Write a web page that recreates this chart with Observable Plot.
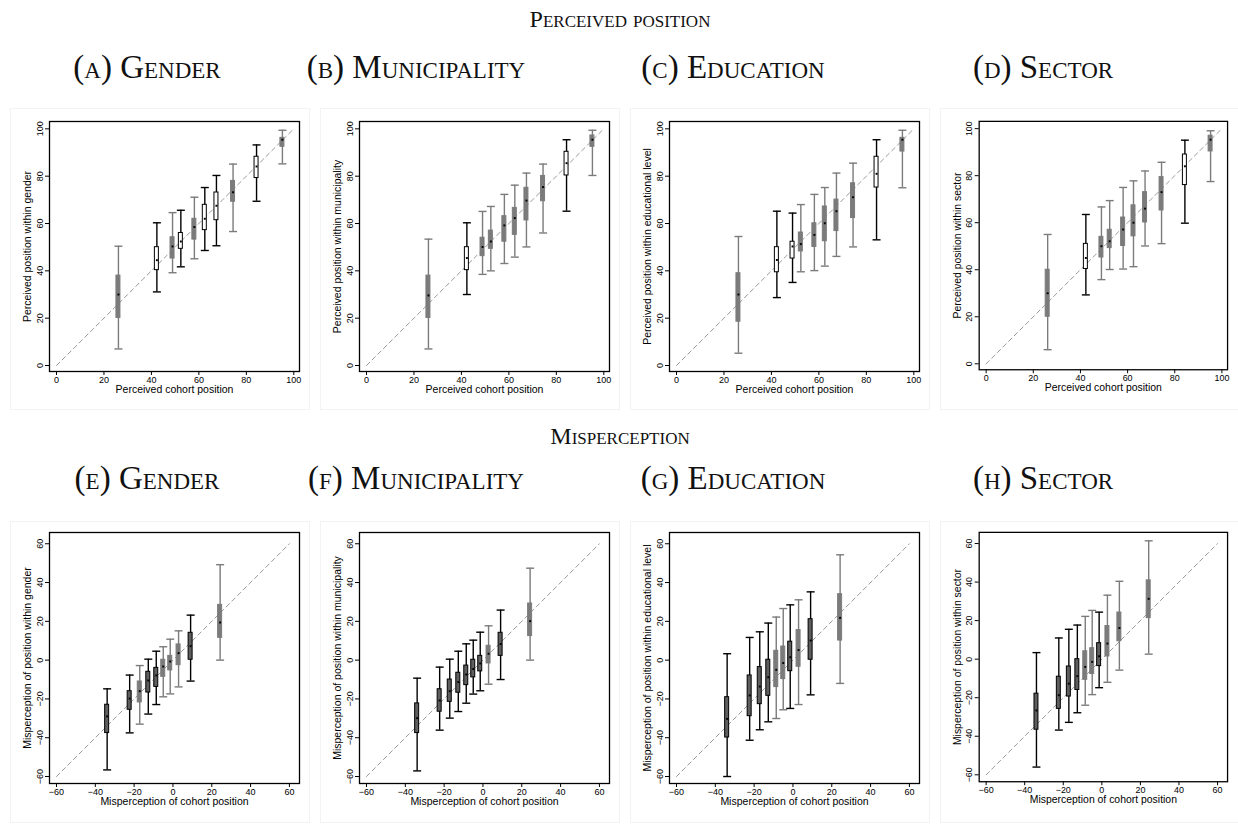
<!DOCTYPE html>
<html>
<head>
<meta charset="utf-8">
<script src="https://cdn.jsdelivr.net/npm/d3@7"></script>
<script src="https://cdn.jsdelivr.net/npm/@observablehq/plot@0.6"></script>
<style>
  body { margin: 0; background: #fff; }
  #fig { position: relative; width: 1238px; height: 825px; overflow: hidden; background: #fff; }
  .hd { position: absolute; transform: translateX(-50%); white-space: nowrap; font-family: "Liberation Serif", "DejaVu Serif", serif; font-variant: small-caps; color: #111; line-height: 1; }
  .region { position: absolute; border: 1px solid #f3f3f3; box-sizing: border-box; }
  .panel { position: absolute; }
</style>
</head>
<body>
<div id="fig"></div>
<script>
// Bin centres on the horizontal axis
const cohortPosition = [26.1, 42.3, 48.9, 52.4, 58.1, 62.5, 67.4, 74.4, 84.3, 95.2];
const cohortMisperception = [-33.9, -22.3, -17.1, -12.7, -8.6, -5.0, -1.4, 2.9, 9.1, 24.3];

// Box summaries per bin: [lower whisker, q1, median, q3, upper whisker]
const posGender = [
  [7, 20.1, 30, 38, 50.4], [31.1, 40.3, 44.5, 50, 60.3], [39.2, 45.2, 50.3, 54.2, 64.6],
  [41.7, 49.3, 52.4, 56, 65.6], [45.1, 53.2, 58.5, 62, 71.1], [48.6, 57.2, 62, 67.9, 75.2],
  [50.6, 61.4, 67.5, 73.1, 80.3], [56.6, 69.2, 73.2, 78, 85.1], [69.4, 79.2, 84.1, 88.2, 93.2],
  [85.2, 92.4, 95.4, 96.2, 99.4]
];
const posMunicipality = [
  [7, 20.1, 29.6, 38, 53.4], [30, 40.3, 45.4, 50, 60.3], [38.5, 46.2, 50.1, 54, 65.1],
  [40, 49.3, 52.4, 57, 67.2], [43.1, 52.3, 59.2, 63.1, 72.3], [45.8, 55.2, 62.3, 66.6, 76.2],
  [50.1, 61.3, 69.7, 75.1, 81.3], [56, 69.4, 75.4, 80.1, 85.1], [65.2, 80.3, 85.5, 90.3, 95.4],
  [80.3, 92.4, 95.4, 97.2, 99.4]
];
const posEducation = [
  [5.2, 18.5, 30, 39, 54.5], [28.7, 39.4, 44.6, 50, 65.2], [35.1, 45.2, 50.3, 52.3, 64.4],
  [39.6, 48.2, 51.3, 56.2, 68], [40.1, 50.1, 55.2, 60.1, 72.3], [42, 52.5, 60.1, 67.2, 75.2],
  [46.1, 56.8, 65.2, 70.1, 81.3], [50.1, 62.3, 71.1, 77, 85.5], [53.1, 75.2, 81, 88.2, 95.4],
  [75.1, 90.4, 95.4, 96.2, 99.4]
];
const posSector = [
  [6, 20, 30, 40, 55], [29.3, 40.3, 45, 51, 63.5], [35.8, 45.2, 50, 54, 66.7],
  [40.1, 49.2, 52.1, 57, 69.4], [40.3, 50.1, 57.1, 62.2, 75], [41.3, 54.2, 60, 67.4, 77.8],
  [50.1, 60.1, 66, 73, 82], [51.1, 65.2, 73, 79.4, 85.7], [59.8, 76, 84, 89, 95.1],
  [77.5, 90.3, 95.3, 97, 99.1]
];
const misGender = [
  [-56.6, -37.6, -29, -23, -14.8], [-37.5, -25.6, -19.8, -16, -7.7], [-33, -21.8, -16, -11, -2.8],
  [-27.8, -16.7, -10.5, -6, 0.5], [-22.9, -13.8, -7.9, -4, 4.6], [-18.9, -8.6, -3.3, 0.2, 6.9],
  [-17.4, -5.3, -0.7, 2.2, 10.8], [-13.8, -2.6, 3.6, 8.1, 15.1], [-10.8, 0.2, 7.2, 14.1, 23.2],
  [0, 11.5, 19.4, 28.5, 49.2]
];
const misMunicipality = [
  [-57.1, -37.6, -29.9, -22.3, -9.3], [-36.1, -26.6, -20.8, -15, -3.6], [-29.9, -21.5, -16, -10, 0.5],
  [-26.5, -16.8, -11.3, -6.5, 4.6], [-22.2, -12.9, -7.4, -2.8, 8.4], [-17.5, -8.9, -4.6, 0.2, 10.3],
  [-15.8, -5.8, -1.7, 2.2, 14.4], [-12.4, -1.7, 3.3, 7.4, 17.7], [-10, 2.2, 8.3, 14.1, 25.8],
  [0, 12.4, 20.1, 29.2, 47.4]
];
const misEducation = [
  [-60, -39.9, -30.3, -19.1, 3.3], [-41.3, -28.9, -18.2, -7.9, 11.7], [-35.9, -22.7, -13.6, -3.6, 14.6],
  [-31.8, -18.4, -8.8, 0.2, 19.1], [-30.1, -13.9, -5, 4.8, 22.2], [-25.6, -9.8, -1.5, 7, 26.6],
  [-24.9, -5.7, 1.5, 9.5, 28.5], [-22.9, -3.4, 5.2, 15.5, 31.1], [-17.9, 0.2, 10.1, 21.1, 35.2],
  [-12, 10.1, 21.8, 34, 54.3]
];
const misSector = [
  [-56, -36.6, -26.6, -17.9, 3.4], [-36.8, -25.8, -18.7, -9.1, 11], [-32.8, -19.4, -12.7, -3.8, 15.5],
  [-27.8, -16, -8.8, 0, 17.7], [-23.9, -10.7, -4, 4.1, 22.2], [-18.4, -7.7, -1.4, 5.7, 25.3],
  [-14.8, -3.6, 1.5, 8.3, 24.4], [-12, 1.4, 8.1, 17.2, 33.2], [-5.7, 9.3, 16.2, 24.2, 40.4],
  [2.6, 21.3, 31.3, 40.9, 61.4]
];

// Plotting series of each bin
const seriesPosGender       = ["a","b","a","b","a","b","b","a","b","a"];
const seriesPosMunicipality = ["a","b","a","a","a","a","a","a","b","a"];
const seriesPosEducation    = ["a","b","b","a","a","a","a","a","b","a"];
const seriesPosSector       = ["a","b","a","a","a","a","a","a","b","a"];
const seriesMisGender       = ["b","b","a","b","b","a","a","a","b","a"];
const seriesMisMunicipality = ["b","b","b","b","b","b","b","a","b","a"];
const seriesMisEducation    = ["b","b","b","b","a","a","b","a","b","a"];
const seriesMisSector       = ["b","b","b","b","a","a","b","a","a","a"];

const posTicks = [0, 20, 40, 60, 80, 100];
const misTicks = [-60, -40, -20, 0, 20, 40, 60];
const posDiagonal = [0, 100];
const misDiagonal = [-60, 60];

const sectionTitles = ["Perceived position", "Misperception"];
const panelCaptions = [
  ["(a) Gender", "(b) Municipality", "(c) Education", "(d) Sector"],
  ["(e) Gender", "(f) Municipality", "(g) Education", "(h) Sector"]
];
const posXLabel = "Perceived cohort position";
const misXLabel = "Misperception of cohort position";
const posYLabels = ["Perceived position within gender", "Perceived position within municipality",
  "Perceived position within educational level", "Perceived position within sector"];
const misYLabels = ["Misperception of position within gender", "Misperception of position within municipality",
  "Misperception of position within educational level", "Misperception of position within sector"];

const GRAY = "#7b7b7b";

// Horizontal whisker cap drawn as a dot symbol
const capSymbol = {
  draw(context, size) {
    const w = Math.sqrt(size / Math.PI);
    context.moveTo(-w, 0);
    context.lineTo(w, 0);
  }
};

function rowsOf(xs, stats, series) {
  return stats.map((s, i) => ({x: xs[i], lo: s[0], q1: s[1], med: s[2], q3: s[3], hi: s[4], series: series[i]}));
}

function panel({rows, xDomain, yDomain, ticks, diagonal, xLabel, yLabel, height, marginBottom, hollowFill}) {
  const color = {domain: ["a", "b"], range: [GRAY, "#000"]};
  return Plot.plot({
    width: 310,
    height,
    marginLeft: 49, marginRight: 11, marginTop: 21, marginBottom,
    style: {fontFamily: "'Liberation Sans', Arial, sans-serif", background: "transparent", overflow: "visible", color: "#000"},
    x: {domain: xDomain},
    y: {domain: yDomain},
    color,
    marks: [
      Plot.line(diagonal, {x: d => d, y: d => d, stroke: "#9a9a9a", strokeWidth: 1, strokeDasharray: "4.5,3.5"}),
      Plot.ruleX(rows, {x: "x", y1: "lo", y2: "hi", stroke: "series", strokeWidth: 1.4}),
      Plot.dot(rows, {x: "x", y: "lo", symbol: capSymbol, r: 4, stroke: "series", strokeWidth: 1.4}),
      Plot.dot(rows, {x: "x", y: "hi", symbol: capSymbol, r: 4, stroke: "series", strokeWidth: 1.4}),
      Plot.rect(rows, {
        x1: "x", x2: "x", y1: "q1", y2: "q3", insetLeft: -2, insetRight: -2,
        fill: d => d.series === "a" ? GRAY : hollowFill, stroke: "series", strokeWidth: 1
      }),
      Plot.dot(rows, {x: "x", y: "med", r: 1.1, symbol: "square", fill: "#000"}),
      Plot.frame({stroke: "#000", strokeWidth: 1.3}),
      Plot.axisX({ticks, tickSize: 4, tickPadding: 1, fontSize: 9, label: null, stroke: "#000"}),
      Plot.axisY({ticks, tickSize: 4, tickPadding: 3, tickRotate: -90, fontSize: 9, label: null, stroke: "#000"}),
      Plot.text([xLabel], {text: d => d, frameAnchor: "bottom", dy: 21, fontSize: 10.5, fill: "#000"}),
      Plot.text([yLabel], {text: d => d, frameAnchor: "left", textAnchor: "middle", rotate: -90, dx: -22, fontSize: 10.5, fill: "#000"})
    ]
  });
}

const fig = document.getElementById("fig");

function addText(text, cls, cx, top, size) {
  const el = document.createElement("div");
  el.className = cls;
  el.textContent = text;
  el.style.left = cx + "px";
  el.style.top = top + "px";
  el.style.fontSize = size + "px";
  fig.appendChild(el);
}

// Section titles and panel captions
addText(sectionTitles[0], "hd", 620, 7, 24);
addText(sectionTitles[1], "hd", 620, 424, 24);
const captionCentres = [147, 416, 733, 1043];
panelCaptions[0].forEach((t, i) => addText(t, "hd", captionCentres[i], 51, 33));
panelCaptions[1].forEach((t, i) => addText(t, "hd", captionCentres[i], 462, 33));

const topStats = [posGender, posMunicipality, posEducation, posSector];
const topSeries = [seriesPosGender, seriesPosMunicipality, seriesPosEducation, seriesPosSector];
const botStats = [misGender, misMunicipality, misEducation, misSector];
const botSeries = [seriesMisGender, seriesMisMunicipality, seriesMisEducation, seriesMisSector];

function place(node, left, top, cls) {
  const wrap = document.createElement("div");
  wrap.className = cls;
  wrap.style.left = left + "px";
  wrap.style.top = top + "px";
  wrap.appendChild(node);
  fig.appendChild(wrap);
}

function region(left, top, w, h) {
  const r = document.createElement("div");
  r.className = "region";
  r.style.left = left + "px"; r.style.top = top + "px";
  r.style.width = w + "px"; r.style.height = h + "px";
  fig.appendChild(r);
}

for (let i = 0; i < 4; i++) {
  region(i * 310 + 10, 108, 300, 302);
  region(i * 310 + 10, 521, 300, 302);
  place(panel({
    rows: rowsOf(cohortPosition, topStats[i], topSeries[i]),
    xDomain: [-2.95, 102.4], yDomain: [-2.53, 103.1], ticks: posTicks, diagonal: posDiagonal,
    xLabel: posXLabel, yLabel: posYLabels[i], height: 310, marginBottom: 39, hollowFill: "#fff"
  }), i * 310, 100, "panel");
  place(panel({
    rows: rowsOf(cohortMisperception, botStats[i], botSeries[i]),
    xDomain: [-63.6, 65.2], yDomain: [-63.6, 65.8], ticks: misTicks, diagonal: misDiagonal,
    xLabel: misXLabel, yLabel: misYLabels[i], height: 311, marginBottom: 39, hollowFill: "#5e5e5e"
  }), i * 310, 511, "panel");
}
</script>
</body>
</html>
